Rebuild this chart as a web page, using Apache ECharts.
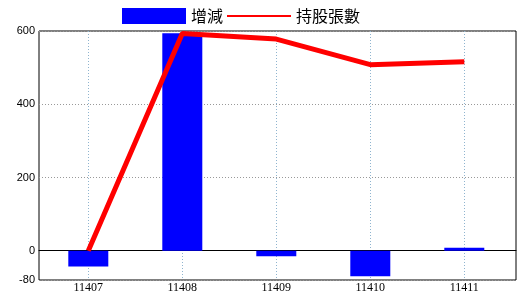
<!DOCTYPE html>
<html>
<head>
<meta charset="utf-8">
<script src="https://cdn.jsdelivr.net/npm/echarts@6/dist/echarts.min.js"></script>
<style>html,body{margin:0;padding:0;background:#fff}#c{width:520px;height:300px}</style>
</head>
<body>
<div id="c"></div>
<script>
const categories = ['11407', '11408', '11409', '11410', '11411'];
const changeValues = [-43, 594, -15, -70, 8];
const holdingValues = [0, 593, 578, 508, 516];
const yTickValues = [-80, 0, 200, 400, 600];

const chart = echarts.init(document.getElementById('c'), null, {renderer: 'canvas'});
chart.setOption({
  animation: false,
  backgroundColor: '#ffffff',
  legend: {
    left: 122, top: 8, padding: 0,
    itemWidth: 64, itemHeight: 16, itemGap: 3,
    textStyle: {fontFamily: 'Noto Sans CJK TC', fontSize: 16, color: '#000'},
    data: [
      {name: '增減', icon: 'rect', itemStyle: {color: '#0000ff'}},
      {name: '持股張數', lineStyle: {width: 2, color: '#ff0000'}, itemStyle: {opacity: 0}}
    ]
  },
  grid: [
    {left: 39, right: 4, top: 31, bottom: 20, show: true, borderColor: '#000', borderWidth: 1, backgroundColor: 'transparent'},
    {left: 88.3, right: 55.7, top: 31, bottom: 20}
  ],
  xAxis: [
    {type: 'value', gridIndex: 0, min: 0, max: 1,
     axisLine: {show: true, onZero: true, lineStyle: {color: '#000', width: 1}},
     axisTick: {show: false}, axisLabel: {show: false}, splitLine: {show: false}},
    {type: 'category', gridIndex: 1, data: categories, boundaryGap: false,
     axisLine: {show: false}, axisTick: {show: false},
     axisLabel: {margin: 2, fontFamily: 'Liberation Serif', fontSize: 12, color: '#000'},
     splitLine: {show: true, lineStyle: {color: '#8fb4cf', type: [1, 2], width: 1}}}
  ],
  yAxis: [
    {type: 'value', gridIndex: 0, min: -80, max: 600,
     axisLine: {show: false}, axisTick: {show: false, customValues: yTickValues},
     axisLabel: {customValues: yTickValues, margin: 4, fontFamily: 'Liberation Sans', fontSize: 11, color: '#000'},
     splitLine: {show: true, lineStyle: {color: '#999', type: [1, 2], width: 1}}},
    {type: 'value', gridIndex: 1, min: -80, max: 600, show: false, splitLine: {show: false}}
  ],
  series: [
    {name: '增減', type: 'bar', xAxisIndex: 1, yAxisIndex: 1, data: changeValues,
     barWidth: 40, clip: false, itemStyle: {color: '#0000ff'}},
    {name: '持股張數', type: 'line', xAxisIndex: 1, yAxisIndex: 1, data: holdingValues,
     clip: false, showSymbol: false, symbol: 'none', z: 5,
     lineStyle: {color: '#ff0000', width: 5}, itemStyle: {color: '#ff0000'}}
  ]
});
</script>
</body>
</html>
